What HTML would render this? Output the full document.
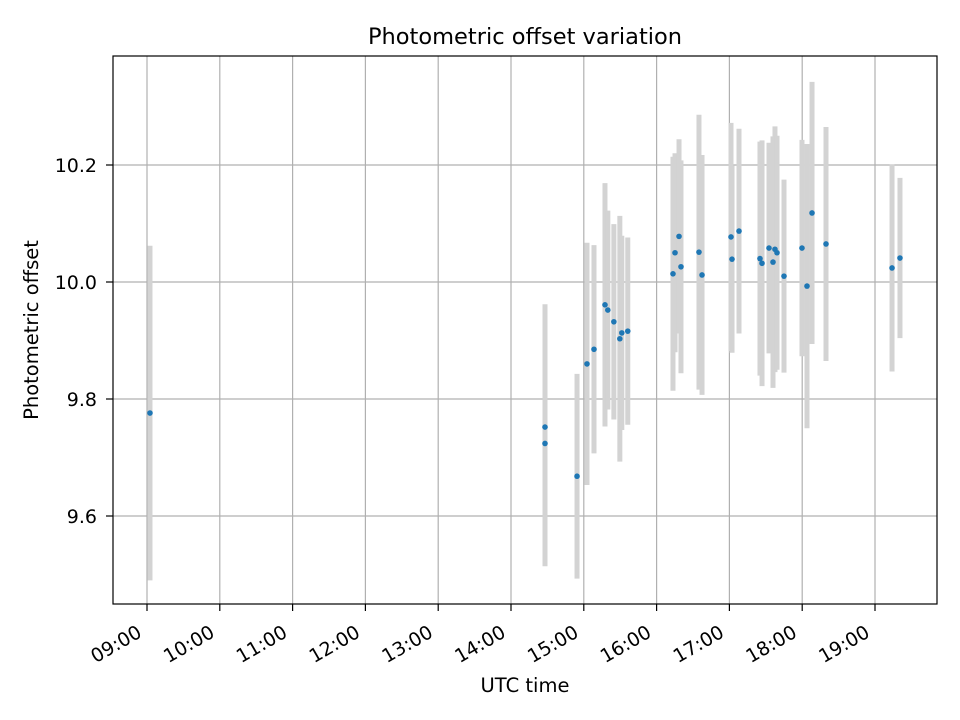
<!DOCTYPE html>
<html><head><meta charset="utf-8"><style>body{margin:0;background:#fff}svg{display:block;font-family:"DejaVu Sans","Liberation Sans",sans-serif}</style></head>
<body>
<svg id="chart" width="960" height="720" viewBox="0 0 960 720" xmlns="http://www.w3.org/2000/svg">
<rect x="0" y="0" width="960" height="720" fill="#fff"/>
<g id="grid"></g><g id="bars"></g><g id="pts"></g><g id="ticks"></g>
<rect x="113" y="56" width="824" height="548" fill="none" stroke="#000" stroke-width="1.2"/>
<text x="525" y="44" font-size="22.5" text-anchor="middle">Photometric offset variation</text>
<text x="525" y="692" font-size="19.5" text-anchor="middle">UTC time</text>
<text transform="translate(38,330) rotate(-90)" font-size="19.5" text-anchor="middle">Photometric offset</text>
</svg>
<script>
const times=[9.041,14.467,14.467,14.907,15.044,15.140,15.291,15.330,15.413,15.495,15.522,15.604,16.225,16.253,16.308,16.335,16.582,16.624,17.022,17.036,17.132,17.420,17.448,17.544,17.626,17.599,17.654,17.750,17.997,18.066,18.135,18.327,19.234,19.343];
const values=[9.776,9.752,9.724,9.668,9.860,9.885,9.961,9.952,9.932,9.903,9.913,9.916,10.014,10.05,10.078,10.026,10.051,10.012,10.077,10.039,10.087,10.04,10.032,10.058,10.056,10.034,10.05,10.01,10.058,9.993,10.118,10.065,10.024,10.041];
const errors=[0.286,0.21,0.21,0.175,0.207,0.178,0.208,0.17,0.167,0.21,0.166,0.16,0.2,0.17,0.166,0.182,0.235,0.205,0.195,0.16,0.175,0.2,0.21,0.18,0.21,0.215,0.2,0.165,0.185,0.243,0.224,0.2,0.177,0.137];
const xTickHours=[9,10,11,12,13,14,15,16,17,18,19];
const xTickLabels=["09:00","10:00","11:00","12:00","13:00","14:00","15:00","16:00","17:00","18:00","19:00"];
const yTicks=[9.6,9.8,10.0,10.2];
const yTickLabels=["9.6","9.8","10.0","10.2"];
const NS="http://www.w3.org/2000/svg";
function X(h){return 147+(h-9)*72.8;}
function Y(v){return 282-(v-10)*585;}
function mk(t,a,p){const e=document.createElementNS(NS,t);for(const k in a)e.setAttribute(k,a[k]);p.appendChild(e);return e;}
const G=document.getElementById('grid'),B=document.getElementById('bars'),P=document.getElementById('pts'),T=document.getElementById('ticks');
xTickHours.forEach((h,i)=>{const x=X(h);
 const l=mk('line',{x1:x,x2:x,y1:56,y2:604,stroke:'#b0b0b0','stroke-width':1.2},G);
 
 mk('line',{x1:x,x2:x,y1:604,y2:611,stroke:'#000','stroke-width':1.2},T);
 const t=mk('text',{transform:`translate(${x-4},${636}) rotate(-30)`,'font-size':19,'text-anchor':'end'},T);
 
 t.textContent=xTickLabels[i];});
yTicks.forEach((v,i)=>{const y=Y(v);
 const l=mk('line',{x1:113,x2:937,y1:y,y2:y,stroke:'#b0b0b0','stroke-width':1.2},G);
 
 mk('line',{x1:106,x2:113,y1:y,y2:y,stroke:'#000','stroke-width':1.2},T);
 const t=mk('text',{x:97,y:y+7,'font-size':19,'text-anchor':'end'},T);
 
 t.textContent=yTickLabels[i];});
times.forEach((h,i)=>{const x=X(h);
 const b=mk('line',{x1:x,x2:x,y1:Y(values[i]+errors[i]),y2:Y(values[i]-errors[i]),stroke:'#d3d3d3','stroke-width':5},B);
 
 const c=mk('circle',{cx:x,cy:Y(values[i]),r:2.8,fill:'#1f77b4'},P);
 });
</script>
</body></html>
